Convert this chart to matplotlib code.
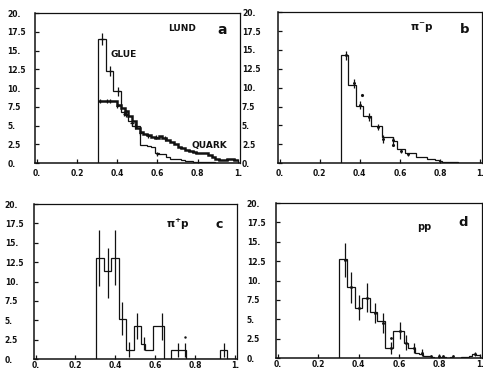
import numpy as np
import matplotlib

matplotlib.use('Agg')
import matplotlib.pyplot as plt

# histogram binning (shared by all four panels)
BIN_START = 0.305
BIN_WIDTH = 0.0188
N_BINS = 37

X_TICKS = [0.0, 0.2, 0.4, 0.6, 0.8, 1.0]
X_TICK_LABELS = ['0.', '0.2', '0.4', '0.6', '0.8', '1.']
Y_TICKS = [0, 2.5, 5, 7.5, 10, 12.5, 15, 17.5, 20]
Y_TICK_LABELS = ['0.', '2.5', '5.', '7.5', '10.', '12.5', '15.', '17.5', '20.']

# panel a: LUND model, gluon and quark jets
glue = [16.5, 16.5, 12.3, 12.3, 9.6, 9.6, 6.8, 6.4, 5.6, 5.0, 4.9, 2.4, 2.4, 2.3, 2.2,
        1.3, 1.2, 1.2, 0.8, 0.6, 0.5, 0.5, 0.4, 0.3, 0.25, 0.2, 0.2, 0.15, 0.1, 0.1,
        0.08, 0.05, 0.05, 0.03, 0.02, 0.0, 0.0]
quark = [8.3, 8.3, 8.3, 8.3, 8.3, 7.8, 7.3, 6.9, 6.3, 5.6, 4.7, 4.1, 3.9, 3.7, 3.5,
         3.4, 3.6, 3.4, 3.1, 2.8, 2.5, 2.2, 2.0, 1.8, 1.6, 1.5, 1.4, 1.3, 1.3, 1.1,
         0.8, 0.5, 0.4, 0.4, 0.5, 0.6, 0.4]
glue_pts_x = [0.325, 0.365, 0.405, 0.445, 0.49, 0.60]
glue_pts_y = [16.5, 12.3, 9.6, 6.6, 5.0, 1.2]
glue_pts_err = [0.8, 0.7, 0.6, 0.5, 0.4, 0.3]
quark_pts_x = [0.317, 0.35, 0.366, 0.40, 0.436, 0.474, 0.515, 0.555, 0.594, 0.64]
quark_pts_y = [8.3, 8.3, 8.3, 7.6, 6.6, 5.3, 4.0, 3.6, 3.5, 3.3]
quark_pts_err = [0.3, 0.3, 0.3, 0.3, 0.3, 0.3, 0.3, 0.3, 0.3, 0.3]

# panel b: pi- p
pim_hist = [14.3, 14.3, 10.3, 10.3, 7.6, 7.6, 6.3, 6.3, 4.9, 4.9, 4.9, 3.4, 3.4, 3.4,
            2.9, 1.9, 1.9, 1.4, 1.4, 1.4, 0.8, 0.8, 0.8, 0.6, 0.5, 0.4, 0.3, 0.15,
            0.1, 0.1, 0.08, 0.05, 0.05, 0.03, 0.0, 0.0, 0.0]
pim_pts_x = [0.33, 0.37, 0.40, 0.445, 0.49, 0.515, 0.565, 0.605, 0.64]
pim_pts_y = [14.3, 10.6, 7.7, 6.1, 4.8, 3.2, 3.0, 1.6, 1.2]
pim_pts_err = [0.6, 0.6, 0.5, 0.5, 0.4, 0.5, 0.5, 0.3, 0.2]
pim_dots_x = [0.41, 0.565]
pim_dots_y = [9.0, 2.4]

# panel c: pi+ p
pip_hist = [13, 13, 11.3, 11.3, 13, 13, 5.2, 5.2, 1.2, 1.2, 4.2, 4.2, 2.0, 1.2, 1.2,
            4.2, 4.2, 4.2, 0, 0, 1.2, 1.2, 1.2, 1.2, 0, 0, 0, 0, 0, 0, 0, 0, 0,
            1.2, 1.2, 0, 0]
pip_pts_x = [0.32, 0.363, 0.40, 0.436, 0.47, 0.508, 0.545, 0.633, 0.713, 0.75, 0.945]
pip_pts_y = [13.0, 11.1, 13.1, 5.25, 1.25, 4.25, 2.0, 4.2, 1.2, 1.2, 1.2]
pip_pts_err = [3.6, 3.2, 3.5, 2.1, 1.0, 1.7, 0.9, 1.7, 0.9, 0.9, 0.9]
pip_dots_x = [0.75]
pip_dots_y = [2.9]

# panel d: p p
pp_hist = [12.8, 12.8, 9.2, 9.2, 6.5, 6.5, 7.8, 7.8, 6.0, 6.0, 4.8, 4.8, 1.3, 1.3,
           3.5, 3.5, 3.5, 2.0, 1.3, 1.3, 0.7, 0.5, 0.2, 0.2, 0.1, 0.0, 0.15, 0.1,
           0.0, 0.1, 0.0, 0.0, 0.1, 0.1, 0.3, 0.5, 0.4]
pp_pts_x = [0.332, 0.364, 0.402, 0.44, 0.482, 0.522, 0.56, 0.607, 0.635, 0.676, 0.715, 0.975]
pp_pts_y = [12.6, 9.1, 6.5, 7.8, 5.8, 4.5, 1.3, 3.5, 2.0, 1.3, 0.7, 0.5]
pp_pts_err = [2.2, 2.0, 1.6, 1.9, 1.3, 1.3, 0.8, 1.1, 1.0, 0.6, 0.4, 0.3]
pp_dots_x = [0.76, 0.797, 0.817, 0.867, 0.56]
pp_dots_y = [0.3, 0.3, 0.3, 0.2, 2.6]

edges = BIN_START + BIN_WIDTH * np.arange(N_BINS + 1)

INK = '#111111'


def style_axes(ax, ypad, xpad):
    ax.set_xlim(-0.008, 1.01)
    ax.set_ylim(0, 20)
    ax.set_xticks(X_TICKS)
    ax.set_xticklabels(X_TICK_LABELS, fontweight='bold')
    ax.set_yticks(Y_TICKS)
    ax.set_yticklabels(Y_TICK_LABELS, fontweight='bold', ha='left')
    ax.tick_params(direction='in', length=3, width=0.9, labelsize=5.5,
                   colors=INK, top=False, right=False)
    ax.tick_params(axis='y', pad=ypad)
    ax.tick_params(axis='x', pad=xpad)
    for side, spine in ax.spines.items():
        spine.set_color(INK)
        spine.set_linewidth(1.1 if side in ('left', 'bottom') else 0.9)


def draw_points(ax, xs, ys, errs, xerr=0.0, marker=None):
    ax.errorbar(xs, ys, yerr=errs, xerr=xerr, fmt='none', ecolor=INK,
                elinewidth=0.9, capsize=0)
    if marker:
        ax.plot(xs, ys, marker, color=INK, ms=2.2)


fig = plt.figure(figsize=(4.83, 3.69), dpi=100)

# ---- a ----
ax_a = fig.add_axes([0.0725, 0.558, 0.4244, 0.4065])
ax_a.stairs(glue, edges, color=INK, linewidth=0.9, baseline=0)
ax_a.stairs(quark, edges, color=INK, linewidth=1.8, baseline=None)
draw_points(ax_a, glue_pts_x, glue_pts_y, glue_pts_err, xerr=0.008)
draw_points(ax_a, quark_pts_x, quark_pts_y, quark_pts_err, xerr=0.008)
ax_a.text(0.655, 18.0, 'LUND', fontsize=6.5, fontweight='bold', color=INK, va='center')
ax_a.text(0.9, 17.8, 'a', fontsize=10, fontweight='bold', color=INK, va='center')
ax_a.text(0.365, 14.5, 'GLUE', fontsize=6.5, fontweight='bold', color=INK, va='center')
ax_a.text(0.77, 2.3, 'QUARK', fontsize=6.5, fontweight='bold', color=INK, va='center')
style_axes(ax_a, ypad=20, xpad=4)

# ---- b ----
ax_b = fig.add_axes([0.5756, 0.558, 0.4224, 0.409])
ax_b.stairs(pim_hist, edges, color=INK, linewidth=0.9, baseline=0)
draw_points(ax_b, pim_pts_x, pim_pts_y, pim_pts_err, xerr=0.004, marker='.')
ax_b.plot(pim_dots_x, pim_dots_y, '.', color=INK, ms=2.5)
ax_b.text(0.65, 17.9, r'$\mathbf{\pi^{-}p}$', fontsize=7.5, color=INK, va='center')
ax_b.text(0.9, 17.7, 'b', fontsize=9.5, fontweight='bold', color=INK, va='center')
style_axes(ax_b, ypad=26, xpad=4)

# ---- c ----
ax_c = fig.add_axes([0.0704, 0.0271, 0.420, 0.42])
ax_c.stairs(pip_hist, edges, color=INK, linewidth=0.9, baseline=0)
draw_points(ax_c, pip_pts_x, pip_pts_y, pip_pts_err)
ax_c.plot(pip_dots_x, pip_dots_y, '.', color=INK, ms=1.5)
ax_c.text(0.655, 17.3, r'$\mathbf{\pi^{+}p}$', fontsize=7.5, color=INK, va='center')
ax_c.text(0.905, 17.3, 'c', fontsize=9, fontweight='bold', color=INK, va='center')
style_axes(ax_c, ypad=21, xpad=1.5)

# ---- d ----
ax_d = fig.add_axes([0.5714, 0.0298, 0.4265, 0.42])
ax_d.stairs(pp_hist, edges, color=INK, linewidth=0.9, baseline=0)
draw_points(ax_d, pp_pts_x, pp_pts_y, pp_pts_err, marker='.')
ax_d.plot(pp_dots_x, pp_dots_y, '.', color=INK, ms=2.0)
ax_d.text(0.69, 16.9, 'pp', fontsize=7, fontweight='bold', color=INK, va='center')
ax_d.text(0.895, 17.5, 'd', fontsize=9.5, fontweight='bold', color=INK, va='center')
style_axes(ax_d, ypad=21, xpad=1.5)

fig.savefig('out.png', dpi=100)
